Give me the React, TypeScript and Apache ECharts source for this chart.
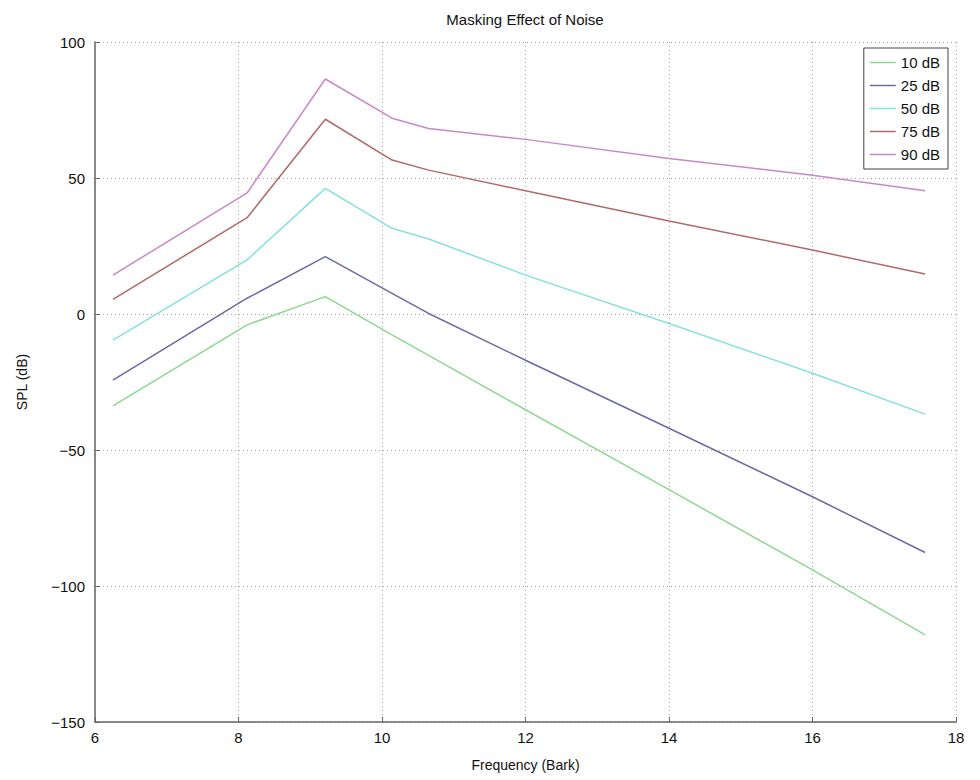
import React, { useEffect, useRef } from "react";
import * as echarts from "echarts";

const barkX = [6.25, 8.12, 9.21, 10.14, 10.65, 12, 14, 16, 17.57];
const s10 = [-33.8, -4, 6.4, -7.7, -15.2, -35.2, -64.6, -94.1, -118];
const s25 = [-24.3, 5.8, 21.1, 7.6, 0.2, -17, -42, -67.2, -87.7];
const s50 = [-9.6, 19.9, 46.2, 31.5, 27.6, 14.3, -3.5, -21.8, -36.8];
const s75 = [5.4, 35.4, 71.6, 56.6, 52.9, 45.3, 34.2, 23.5, 14.7];
const s90 = [14.3, 44.5, 86.4, 72, 68.2, 64.2, 57.2, 51, 45.3];

const seriesNames = ["10 dB", "25 dB", "50 dB", "75 dB", "90 dB"];
const seriesData = [s10, s25, s50, s75, s90];
const colors = ["#8fd88f", "#6a6aa6", "#86e0e0", "#b06a6a", "#c888c8"];

const titleText = "Masking Effect of Noise";
const xName = "Frequency (Bark)";
const yName = "SPL (dB)";

export default function App() {
  const ref = useRef<HTMLDivElement>(null);
  useEffect(() => {
    document.body.style.margin = "0";
    const chart = echarts.init(ref.current!, null, { renderer: "svg" });
    const font = "Liberation Sans, Arial, Helvetica, sans-serif";
    chart.setOption({
      animation: false,
      backgroundColor: "#ffffff",
      textStyle: { fontFamily: font },
      graphic: [
        {
          type: "text",
          x: 525,
          y: 19,
          style: {
            text: titleText,
            fontSize: 15,
            fontFamily: font,
            fill: "#111",
            textAlign: "center",
            textVerticalAlign: "middle",
          },
        },
      ],
      grid: { left: 95, right: 24, top: 42, bottom: 58, containLabel: false },
      legend: {
        orient: "vertical",
        right: 32,
        top: 48,
        data: seriesNames,
        icon: "rect",
        itemWidth: 26,
        itemHeight: 1.5,
        itemGap: 8,
        padding: [7, 8, 7, 6],
        borderColor: "#444",
        borderWidth: 1,
        backgroundColor: "#ffffff",
        borderRadius: 0,
        textStyle: { fontSize: 15, color: "#111", fontFamily: font },
      },
      xAxis: {
        type: "value",
        min: 6,
        max: 18,
        interval: 2,
        name: xName,
        nameLocation: "middle",
        nameGap: 36,
        nameTextStyle: { fontSize: 14, color: "#111" },
        axisLine: { show: true, onZero: false, lineStyle: { color: "#666", width: 1.5 } },
        axisTick: { show: true, inside: true, length: 5, lineStyle: { color: "#666" } },
        axisLabel: { fontSize: 15, color: "#111", margin: 8 },
        splitLine: { show: true, lineStyle: { color: "#aaa", type: [1, 3], width: 1 } },
      },
      yAxis: {
        type: "value",
        min: -150,
        max: 100,
        interval: 50,
        name: yName,
        nameLocation: "middle",
        nameGap: 66,
        nameTextStyle: { fontSize: 14, color: "#111" },
        axisLine: { show: true, onZero: false, lineStyle: { color: "#666", width: 1.5 } },
        axisTick: { show: true, inside: true, length: 5, lineStyle: { color: "#666" } },
        axisLabel: {
          fontSize: 15,
          color: "#111",
          margin: 10,
          formatter: (v: number) => String(v).replace("-", "\u2212"),
        },
        splitLine: { show: true, lineStyle: { color: "#aaa", type: [1, 3], width: 1 } },
      },
      series: seriesNames.map((name, i) => ({
        name,
        type: "line",
        showSymbol: false,
        symbol: "none",
        color: colors[i],
        lineStyle: { color: colors[i], width: 1.5 },
        data: barkX.map((x, j) => [x, seriesData[i][j]]),
      })),
    });
    return () => chart.dispose();
  }, []);
  return <div ref={ref} style={{ width: 980, height: 780 }} />;
}
